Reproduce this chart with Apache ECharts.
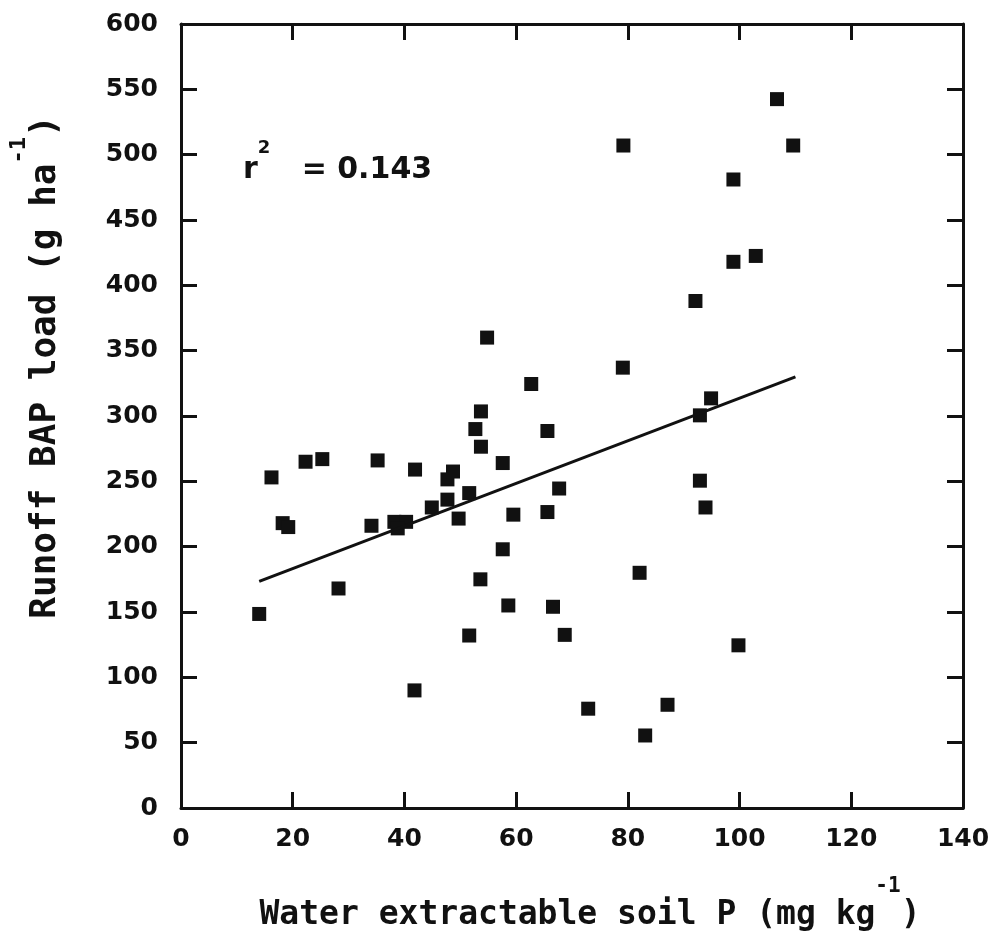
<!DOCTYPE html>
<html>
<head>
<meta charset="utf-8">
<script src="https://cdn.jsdelivr.net/npm/echarts@6/dist/echarts.min.js"></script>
<style>
  html, body { margin: 0; padding: 0; background: #fff; }
  #chart { width: 1001px; height: 944px; }
</style>
</head>
<body>
<div id="chart"></div>
<script>
// soil P (x) vs runoff BAP load (y)
var soilP = [14.0, 16.2, 18.2, 19.2, 22.3, 25.3, 28.2, 34.1, 35.2, 38.2, 40.3, 38.8, 41.8, 41.9,
  44.9, 47.7, 47.7, 48.7, 49.7, 51.6, 51.6, 52.7, 53.7, 53.7, 53.6, 54.8, 57.6, 57.6, 58.6,
  59.5, 62.7, 65.6, 65.6, 66.6, 67.7, 68.7, 72.9, 79.2, 79.1, 82.1, 83.1, 87.1, 92.1, 92.9,
  92.9, 93.9, 94.9, 98.9, 98.9, 99.8, 102.9, 106.7, 109.6];
var bapLoad = [148.5, 253, 218, 215, 265, 267, 168, 216, 266, 219, 219, 214, 90, 259,
  230, 236, 251.5, 257.5, 221.5, 241, 132, 290, 303.5, 276.5, 175, 360, 264, 198, 155,
  224.5, 324.5, 288.5, 226.5, 154, 244.5, 132.5, 76, 507, 337, 180, 55.5, 79, 388, 300.5,
  250.5, 230, 313.5, 418, 481, 124.5, 422.5, 542.5, 507];
// regression line end points
var fitX = [14, 110];
var fitY = [173.5, 330];
var xTicks = [0, 140, 20];   // min, max, step
var yTicks = [0, 600, 50];
var r2Text = '0.143';

var pts = [];
for (var i = 0; i < soilP.length; i++) {
  pts.push([soilP[i], bapLoad[i]]);
}
var fit = [[fitX[0], fitY[0]], [fitX[1], fitY[1]]];

var ink = '#111';
var fnt = '"DejaVu Sans", sans-serif';
var mono = '"DejaVu Sans Mono", monospace';

function axisBase(showLabel, labelMargin) {
  return {
    type: 'value',
    axisLine: { show: true, onZero: false, lineStyle: { color: ink, width: 3 } },
    axisTick: { show: true, inside: true, length: 16, lineStyle: { color: ink, width: 3 } },
    axisLabel: { show: showLabel, color: ink, fontFamily: fnt, fontWeight: 'bold', fontSize: 25, margin: labelMargin },
    splitLine: { show: false }
  };
}

function titleRich(size, supSize, lh) {
  return {
    b: { fontFamily: mono, fontWeight: 'bold', fontSize: size, fill: ink, verticalAlign: 'bottom', lineHeight: lh },
    s: { fontFamily: mono, fontWeight: 'bold', fontSize: supSize, fill: ink, verticalAlign: 'top', lineHeight: lh }
  };
}

var chart = echarts.init(document.getElementById('chart'));

var xb = axisBase(true, 19);
xb.min = xTicks[0]; xb.max = xTicks[1]; xb.interval = xTicks[2];
var xt = axisBase(false, 0);
xt.min = xTicks[0]; xt.max = xTicks[1]; xt.interval = xTicks[2]; xt.position = 'top';

var yl = axisBase(true, 23);
yl.min = yTicks[0]; yl.max = yTicks[1]; yl.interval = yTicks[2];
var yr = axisBase(false, 0);
yr.min = yTicks[0]; yr.max = yTicks[1]; yr.interval = yTicks[2]; yr.position = 'right';

var option = {
  backgroundColor: '#fff',
  animation: false,
  grid: { left: 181, right: 38, top: 24, bottom: 136 },
  xAxis: [xb, xt],
  yAxis: [yl, yr],
  series: [
    {
      type: 'scatter',
      data: pts,
      symbol: 'rect',
      symbolSize: 14,
      itemStyle: { color: ink, opacity: 1 }
    },
    {
      type: 'line',
      data: fit,
      showSymbol: false,
      lineStyle: { color: ink, width: 3 }
    }
  ],
  graphic: [
    {
      type: 'text', left: 243, top: 139,
      style: {
        text: '{b|r}{s|2}{b|   = ' + r2Text + '}',
        rich: {
          b: { fontFamily: fnt, fontWeight: 'bold', fontSize: 30, fill: ink, verticalAlign: 'bottom', lineHeight: 46 },
          s: { fontFamily: fnt, fontWeight: 'bold', fontSize: 18, fill: ink, verticalAlign: 'top', lineHeight: 46 }
        }
      }
    },
    {
      type: 'text', x: 590, y: 904,
      style: {
        text: '{b|Water extractable soil P (mg kg}{s|-1}{b|)}',
        align: 'center', verticalAlign: 'middle',
        rich: titleRich(33, 21, 56)
      }
    },
    {
      type: 'text', x: 36, y: 367, rotation: Math.PI / 2,
      style: {
        text: '{b|Runoff BAP load (g ha}{s|-1}{b|)}',
        align: 'center', verticalAlign: 'middle',
        rich: titleRich(36, 22, 56)
      }
    }
  ]
};

chart.setOption(option);
</script>
</body>
</html>
